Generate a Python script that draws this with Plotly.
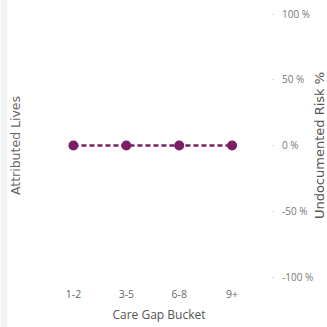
import plotly.graph_objects as go

categories = ["1-2", "3-5", "6-8", "9+"]
risk_values = [0, 0, 0, 0]
y_tickvals = [-1, -0.5, 0, 0.5, 1]
y_ticktext = ["-100 %", "-50 %", "0 %", "50 %", "100 %"]

W, H = 327, 327
L, R, T, B = 46.5, 56, 14, 50

fig = go.Figure()
# invisible trace so the left (Attributed Lives) axis is drawn
fig.add_trace(go.Scatter(
    x=categories, y=[None] * len(categories), yaxis="y", mode="lines",
    showlegend=False, hoverinfo="skip",
))
fig.add_trace(go.Scatter(
    x=categories, y=risk_values, yaxis="y2", mode="lines+markers",
    line=dict(color="#7b1e67", width=2.5, dash="5px,3px"),
    marker=dict(color="#7b1e67", size=10),
    showlegend=False, hoverinfo="skip",
))

font = "Open Sans, Noto Sans, sans-serif"
title_font = "DejaVu Sans, sans-serif"
fig.update_layout(
    width=W, height=H,
    margin=dict(l=L, r=R, t=T, b=B, pad=0, autoexpand=False),
    paper_bgcolor="white", plot_bgcolor="white",
    font=dict(family=font, color="#666666", size=10),
    xaxis=dict(
        type="category", range=[-0.5, 3.736], automargin=False,
        showgrid=False, zeroline=False, showline=False, ticks="",
        tickfont=dict(size=10.5, color="#666666"),
        ticklabelstandoff=9,
        title=dict(text="Care Gap Bucket", font=dict(size=12, color="#555555"), standoff=11),
    ),
    yaxis=dict(
        range=[-1, 1], showgrid=False, zeroline=False, showline=False,
        showticklabels=False, ticks="", automargin=False,
        title=dict(text="Attributed Lives", font=dict(family=title_font, size=12.5, color="#666666"), standoff=22),
    ),
    yaxis2=dict(
        overlaying="y", side="right", range=[-1, 1], automargin=False,
        tickvals=y_tickvals, ticktext=y_ticktext,
        showgrid=False, zeroline=False, showline=False,
        ticks="outside", ticklen=2, tickcolor="#dddddd", tickwidth=1,
        tickfont=dict(size=10, color="#777777"),
        ticklabelstandoff=6,
        title=dict(text="Undocumented Risk %", font=dict(family=title_font, size=13, color="#555555"), standoff=10),
    ),
    shapes=[dict(
        type="rect", xref="paper", yref="paper",
        x0=-L / (W - L - R), x1=(7 - L) / (W - L - R),
        y0=-B / (H - T - B), y1=1 + T / (H - T - B),
        fillcolor="#f3f4f4", line=dict(width=0), layer="below",
    )],
)

fig.write_html("out.html")
